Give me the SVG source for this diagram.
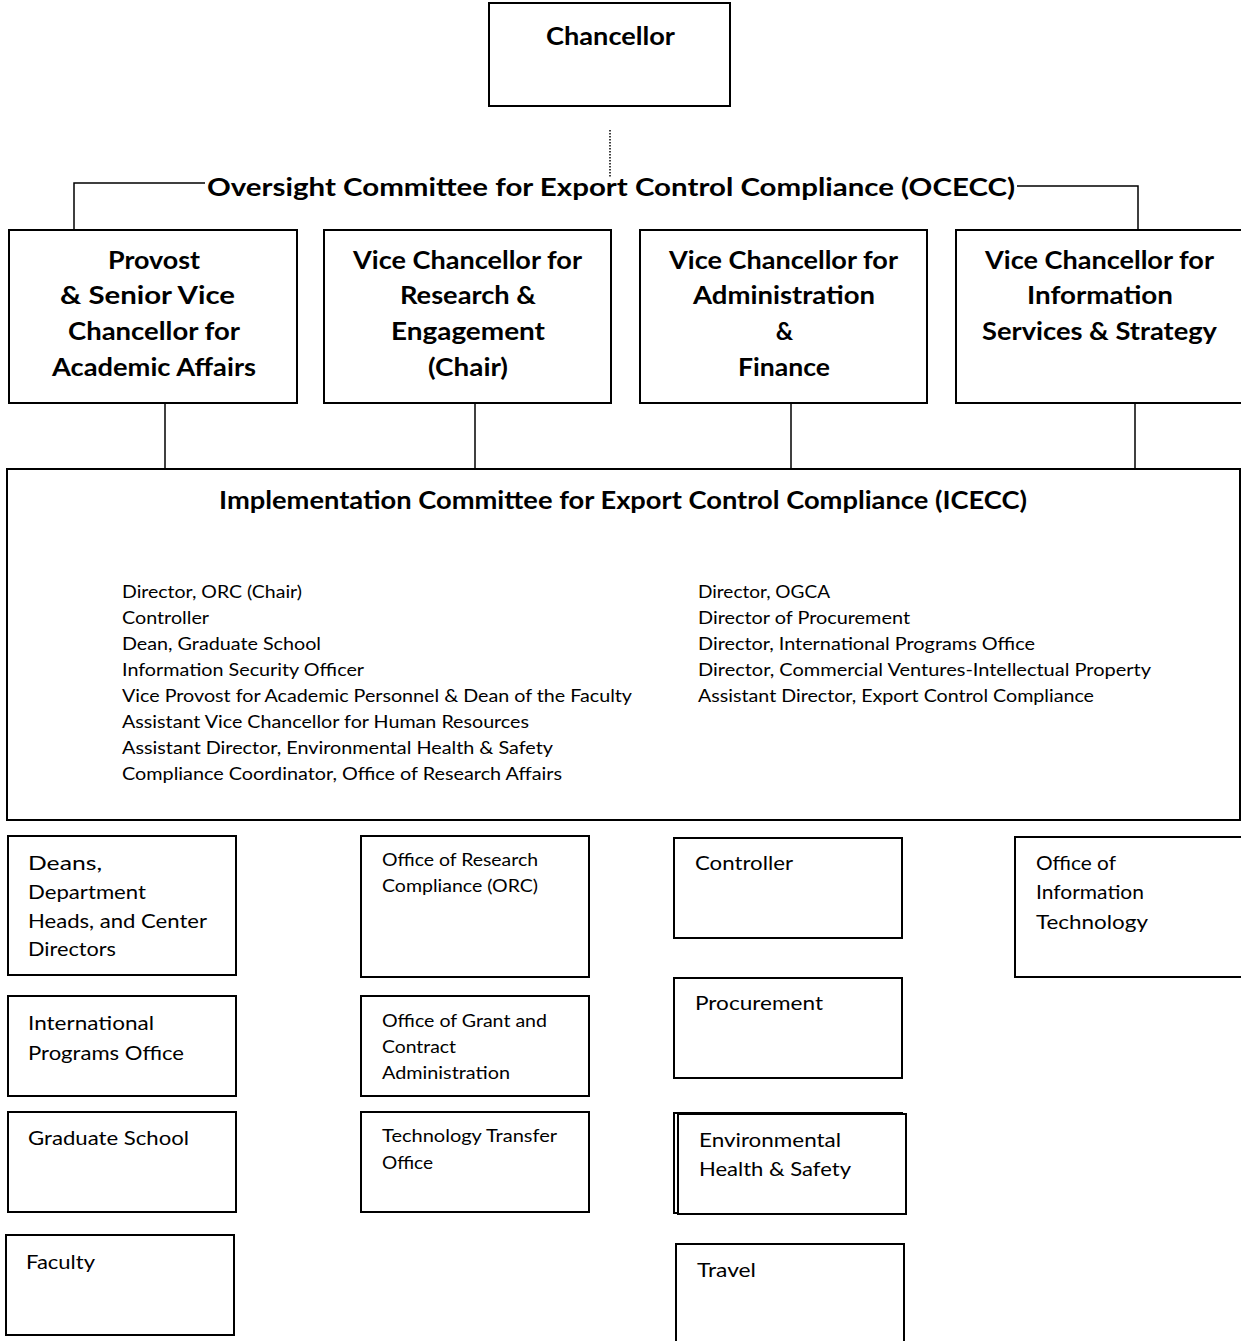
<svg xmlns="http://www.w3.org/2000/svg" width="1241" height="1341" viewBox="0 0 1241 1341">
<style>
.box{fill:#fff;stroke:#000;stroke-width:2}
.ln{fill:none;stroke:#000;stroke-width:1.5}
.dot{fill:none;stroke:#000;stroke-width:1.5;stroke-dasharray:1.5 1.5}
.b{font-family:Lato,"Liberation Sans",sans-serif;font-weight:bold;font-size:24px;fill:#000}
.bc{text-anchor:middle}
.r{font-family:Lato,"Liberation Sans",sans-serif;font-size:18px;fill:#000}
.s{font-family:Lato,"Liberation Sans",sans-serif;font-size:20px;fill:#000}
.t{font-family:Lato,"Liberation Sans",sans-serif;font-size:17px;fill:#000}
</style>
<rect width="1241" height="1341" fill="#fff"/>
<g id="connectors">
<line class="dot" x1="610" y1="130" x2="610" y2="177"/>
<polyline class="ln" points="74,229 74,183 205,183"/>
<polyline class="ln" points="1017,186 1138,186 1138,229"/>
<line class="ln" x1="165" y1="403" x2="165" y2="469"/>
<line class="ln" x1="475" y1="403" x2="475" y2="469"/>
<line class="ln" x1="791" y1="403" x2="791" y2="469"/>
<line class="ln" x1="1135" y1="403" x2="1135" y2="469"/>
</g>
<g id="chancellor">
<rect class="box" x="489" y="3" width="241" height="103"/>
<text class="b bc" x="610.5" y="45" textLength="129" lengthAdjust="spacingAndGlyphs">Chancellor</text>
</g>
<g id="ocecc">
<text class="b bc" x="611" y="196" textLength="808" lengthAdjust="spacingAndGlyphs">Oversight Committee for Export Control Compliance (OCECC)</text>
</g>
<g id="provost">
<rect class="box" x="9" y="230" width="288" height="173"/>
<text class="b bc" x="154" y="269" textLength="92" lengthAdjust="spacingAndGlyphs">Provost</text>
<text class="b bc" x="147.5" y="304" textLength="175" lengthAdjust="spacingAndGlyphs">&amp; Senior Vice</text>
<text class="b bc" x="154" y="340" textLength="172" lengthAdjust="spacingAndGlyphs">Chancellor for</text>
<text class="b bc" x="154" y="376" textLength="204" lengthAdjust="spacingAndGlyphs">Academic Affairs</text>
</g>
<g id="vc-research">
<rect class="box" x="324" y="230" width="287" height="173"/>
<text class="b bc" x="467.5" y="269" textLength="229" lengthAdjust="spacingAndGlyphs">Vice Chancellor for</text>
<text class="b bc" x="468" y="304" textLength="136" lengthAdjust="spacingAndGlyphs">Research &amp;</text>
<text class="b bc" x="468" y="340" textLength="154" lengthAdjust="spacingAndGlyphs">Engagement</text>
<text class="b bc" x="468" y="376" textLength="80" lengthAdjust="spacingAndGlyphs">(Chair)</text>
</g>
<g id="vc-admin">
<rect class="box" x="640" y="230" width="287" height="173"/>
<text class="b bc" x="783.5" y="269" textLength="229" lengthAdjust="spacingAndGlyphs">Vice Chancellor for</text>
<text class="b bc" x="784" y="304" textLength="182" lengthAdjust="spacingAndGlyphs">Administration</text>
<text class="b bc" x="784.5" y="340">&amp;</text>
<text class="b bc" x="784" y="376" textLength="92" lengthAdjust="spacingAndGlyphs">Finance</text>
</g>
<g id="vc-info">
<rect class="box" x="956" y="230" width="290" height="173"/>
<text class="b bc" x="1099.5" y="269" textLength="229" lengthAdjust="spacingAndGlyphs">Vice Chancellor for</text>
<text class="b bc" x="1100" y="304" textLength="146" lengthAdjust="spacingAndGlyphs">Information</text>
<text class="b bc" x="1099.5" y="340" textLength="235" lengthAdjust="spacingAndGlyphs">Services &amp; Strategy</text>
</g>
<g id="icecc">
<rect class="box" x="7" y="469" width="1233" height="351"/>
<text class="b bc" x="623" y="509" textLength="808" lengthAdjust="spacingAndGlyphs">Implementation Committee for Export Control Compliance (ICECC)</text>
<text class="r" x="122" y="598" textLength="180" lengthAdjust="spacingAndGlyphs">Director, ORC (Chair)</text>
<text class="r" x="122" y="624" textLength="87" lengthAdjust="spacingAndGlyphs">Controller</text>
<text class="r" x="122" y="650" textLength="199" lengthAdjust="spacingAndGlyphs">Dean, Graduate School</text>
<text class="r" x="122" y="676" textLength="242" lengthAdjust="spacingAndGlyphs">Information Security Officer</text>
<text class="r" x="122" y="702" textLength="510" lengthAdjust="spacingAndGlyphs">Vice Provost for Academic Personnel &amp; Dean of the Faculty</text>
<text class="r" x="122" y="728" textLength="407" lengthAdjust="spacingAndGlyphs">Assistant Vice Chancellor for Human Resources</text>
<text class="r" x="122" y="754" textLength="431" lengthAdjust="spacingAndGlyphs">Assistant Director, Environmental Health &amp; Safety</text>
<text class="r" x="122" y="780" textLength="440" lengthAdjust="spacingAndGlyphs">Compliance Coordinator, Office of Research Affairs</text>
<text class="r" x="698" y="598" textLength="132" lengthAdjust="spacingAndGlyphs">Director, OGCA</text>
<text class="r" x="698" y="624" textLength="212" lengthAdjust="spacingAndGlyphs">Director of Procurement</text>
<text class="r" x="698" y="650" textLength="337" lengthAdjust="spacingAndGlyphs">Director, International Programs Office</text>
<text class="r" x="698" y="676" textLength="453" lengthAdjust="spacingAndGlyphs">Director, Commercial Ventures-Intellectual Property</text>
<text class="r" x="698" y="702" textLength="396" lengthAdjust="spacingAndGlyphs">Assistant Director, Export Control Compliance</text>
</g>
<g id="deans">
<rect class="box" x="8" y="836" width="228" height="139"/>
<text class="s" x="28" y="870" textLength="74" lengthAdjust="spacingAndGlyphs">Deans,</text>
<text class="s" x="28" y="899" textLength="118" lengthAdjust="spacingAndGlyphs">Department</text>
<text class="s" x="28" y="928" textLength="179" lengthAdjust="spacingAndGlyphs">Heads, and Center</text>
<text class="s" x="28" y="956" textLength="88" lengthAdjust="spacingAndGlyphs">Directors</text>
</g>
<g id="ipo">
<rect class="box" x="8" y="996" width="228" height="100"/>
<text class="s" x="28" y="1030" textLength="126" lengthAdjust="spacingAndGlyphs">International</text>
<text class="s" x="28" y="1060" textLength="156" lengthAdjust="spacingAndGlyphs">Programs Office</text>
</g>
<g id="grad">
<rect class="box" x="8" y="1112" width="228" height="100"/>
<text class="s" x="28" y="1145" textLength="161" lengthAdjust="spacingAndGlyphs">Graduate School</text>
</g>
<g id="faculty">
<rect class="box" x="6" y="1235" width="228" height="100"/>
<text class="s" x="26" y="1269" textLength="69" lengthAdjust="spacingAndGlyphs">Faculty</text>
</g>
<g id="orc">
<rect class="box" x="361" y="836" width="228" height="141"/>
<text class="t" x="382" y="866" textLength="156" lengthAdjust="spacingAndGlyphs">Office of Research</text>
<text class="t" x="382" y="892" textLength="156" lengthAdjust="spacingAndGlyphs">Compliance (ORC)</text>
</g>
<g id="ogca">
<rect class="box" x="361" y="996" width="228" height="100"/>
<text class="t" x="382" y="1027" textLength="165" lengthAdjust="spacingAndGlyphs">Office of Grant and</text>
<text class="t" x="382" y="1053" textLength="74" lengthAdjust="spacingAndGlyphs">Contract</text>
<text class="t" x="382" y="1079" textLength="128" lengthAdjust="spacingAndGlyphs">Administration</text>
</g>
<g id="tto">
<rect class="box" x="361" y="1112" width="228" height="100"/>
<text class="t" x="382" y="1142" textLength="175" lengthAdjust="spacingAndGlyphs">Technology Transfer</text>
<text class="t" x="382" y="1169" textLength="51" lengthAdjust="spacingAndGlyphs">Office</text>
</g>
<g id="controller">
<rect class="box" x="674" y="838" width="228" height="100"/>
<text class="s" x="695" y="870" textLength="98" lengthAdjust="spacingAndGlyphs">Controller</text>
</g>
<g id="procurement">
<rect class="box" x="674" y="978" width="228" height="100"/>
<text class="s" x="695" y="1010" textLength="128" lengthAdjust="spacingAndGlyphs">Procurement</text>
</g>
<g id="ehs">
<rect class="box" x="674" y="1113" width="228" height="100"/>
<rect class="box" x="678" y="1114" width="228" height="100"/>
<text class="s" x="699" y="1147" textLength="142" lengthAdjust="spacingAndGlyphs">Environmental</text>
<text class="s" x="699" y="1176" textLength="152" lengthAdjust="spacingAndGlyphs">Health &amp; Safety</text>
</g>
<g id="travel">
<rect class="box" x="676" y="1244" width="228" height="110"/>
<text class="s" x="697" y="1277" textLength="59" lengthAdjust="spacingAndGlyphs">Travel</text>
</g>
<g id="oit">
<rect class="box" x="1015" y="837" width="240" height="140"/>
<text class="s" x="1036" y="870" textLength="80" lengthAdjust="spacingAndGlyphs">Office of</text>
<text class="s" x="1036" y="899" textLength="108" lengthAdjust="spacingAndGlyphs">Information</text>
<text class="s" x="1036" y="929" textLength="112" lengthAdjust="spacingAndGlyphs">Technology</text>
</g>
</svg>
